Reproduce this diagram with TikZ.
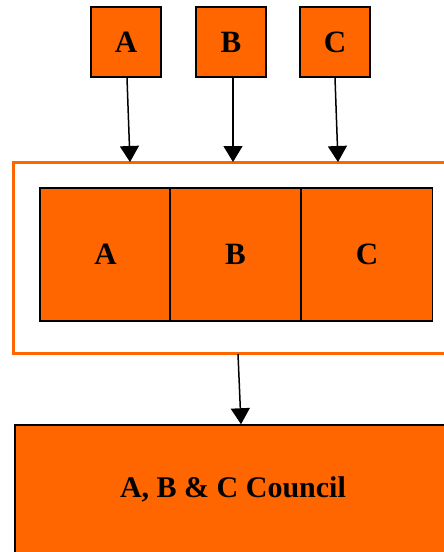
\documentclass[tikz,border=0pt]{standalone}
\usepackage{fontspec}
\setmainfont{Liberation Serif}
\usetikzlibrary{arrows.meta}
\definecolor{councilorange}{HTML}{FF6600}

\tikzset{
  memberbox/.style={draw=black, fill=councilorange, line width=1.5pt, inner sep=0pt,
    minimum width=70pt, minimum height=70pt, font=\fontsize{31}{31}\selectfont\bfseries},
  seatbox/.style={draw=black, fill=councilorange, line width=1.5pt, inner sep=0pt,
    minimum width=131pt, minimum height=133pt, font=\fontsize{31}{31}\selectfont\bfseries},
  feed/.style={line width=1.5pt, -{Triangle[width=19pt,length=16pt]}}
}

\begin{document}
\begin{tikzpicture}[x=1pt,y=-1pt]
        \useasboundingbox (0,0) rectangle (444,552);

        % Member bodies
        \node[memberbox] (memA) at (126,42) {A};
        \node[memberbox] (memB) at (231,42) {B};
        \node[memberbox] (memC) at (335,42) {C};

        % Joint body with its three seats
        \node[draw=councilorange, line width=3pt, minimum width=447pt, minimum height=191pt] (joint) at (236.5,257.5) {};
        \node[seatbox] (seatA) at (105.5,254.5) {A};
        \node[seatbox] (seatB) at (235.5,254.5) {B};
        \node[seatbox] (seatC) at (367,254.5) {C};

        % Council
        \node[draw=black, fill=councilorange, line width=1.5pt, minimum width=436pt, minimum height=128pt,
              font=\fontsize{30}{30}\selectfont\bfseries] (council) at (233,489) {A, B \& C Council};

        % Arrow ends on the joint body
        \coordinate (inA) at (130,162);
        \coordinate (inB) at (233,162);
        \coordinate (inC) at (338,162);
        \coordinate (outJ) at (238,354);

        \draw[feed] (memA.south -| 127,0) -- (inA);
        \draw[feed] (memB.south -| 233,0) -- (inB);
        \draw[feed] (memC.south -| 335,0) -- (inC);
        \draw[feed] (outJ) -- (council.north -| 241,0);
\end{tikzpicture}
\end{document}
